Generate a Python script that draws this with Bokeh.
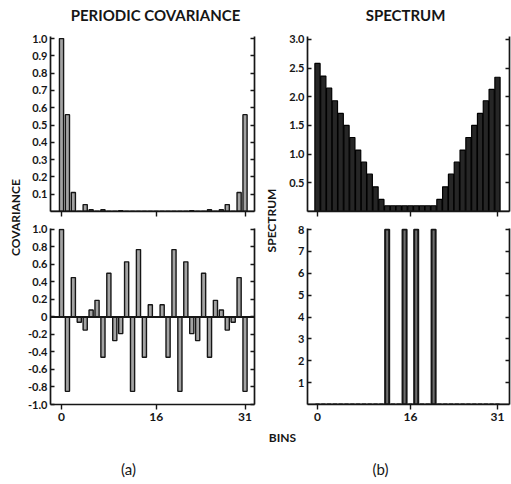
from bokeh.plotting import figure
from bokeh.models import Range1d, LinearAxis, FixedTicker, Span, Label, GridBox
from bokeh.embed import file_html
from bokeh.resources import INLINE

# ---------------- data ----------------
bins = list(range(32))

periodic_cov_a = [1.0, 0.56, 0.11, 0.0, 0.04, 0.01, 0.0, 0.01, 0.0, 0.0, 0.005,
                  0.0, 0.0, 0.0, 0.0, 0.0, 0.0, 0.0, 0.0, 0.0, 0.0, 0.0, 0.005,
                  0.0, 0.0, 0.01, 0.0, 0.01, 0.04, 0.0, 0.11, 0.56]

spectrum_a = [2.58, 2.36, 2.15, 1.93, 1.71, 1.50, 1.29, 1.07, 0.86, 0.65, 0.43, 0.21,
              0.10, 0.10, 0.10, 0.10, 0.10, 0.10, 0.10, 0.10, 0.10,
              0.21, 0.43, 0.65, 0.86, 1.07, 1.29, 1.50, 1.71, 1.93, 2.13, 2.34]

periodic_cov_b = [1.0, -0.85, 0.45, -0.06, -0.15, 0.08, 0.19, -0.46, 0.50, -0.27, -0.19,
                  0.63, -0.85, 0.77, -0.46, 0.14, 0.0, 0.14, -0.46, 0.77, -0.85, 0.63,
                  -0.19, -0.27, 0.50, -0.46, 0.19, 0.08, -0.15, -0.06, 0.45, -0.85]

spectrum_b = [0, 0, 0, 0, 0, 0, 0, 0, 0, 0, 0, 0, 8, 0, 0, 8, 0, 8, 0, 0, 8,
              0, 0, 0, 0, 0, 0, 0, 0, 0, 0, 0]

x_ticks = [0, 16, 31]
x_tick_labels = ["0", "16", "31"]

cov_a_ticks = [0.1, 0.2, 0.3, 0.4, 0.5, 0.6, 0.7, 0.8, 0.9, 1.0]
cov_a_labels = ["0.1", "0.2", "0.3", "0.4", "0.5", "0.6", "0.7", "0.8", "0.9", "1.0"]

spec_a_ticks = [0.5, 1.0, 1.5, 2.0, 2.5, 3.0]
spec_a_labels = ["0.5", "1.0", "1.5", "2.0", "2.5", "3.0"]

cov_b_ticks = [-1.0, -0.8, -0.6, -0.4, -0.2, 0.0, 0.2, 0.4, 0.6, 0.8, 1.0]
cov_b_labels = ["-1.0", "-0.8", "-0.6", "-0.4", "-0.2", "0", "0.2", "0.4", "0.6", "0.8", "1.0"]

spec_b_ticks = [1, 2, 3, 4, 5, 6, 7, 8]
spec_b_labels = ["1", "2", "3", "4", "5", "6", "7", "8"]

# ---------------- layout / style ----------------
W1, W2 = 262, 249
H1, H2 = 220, 264
FONT = "Lato"
INK = "#161616"


def make_panel(width, height, xr, yr, borders, yticks, ylabels, show_xlabels):
    bl, br, bt, bb = borders
    p = figure(width=width, height=height, x_range=Range1d(*xr), y_range=Range1d(*yr),
               output_backend="svg", toolbar_location=None,
               min_border_left=bl, min_border_right=br, min_border_top=bt, min_border_bottom=bb,
               x_axis_location=None, y_axis_location=None)
    p.outline_line_color = None
    p.grid.visible = False
    p.background_fill_color = None
    p.border_fill_color = None

    common = dict(axis_line_color=INK, axis_line_width=1.7,
                  major_tick_line_color=INK, major_tick_line_width=1.4,
                  minor_tick_line_color=None,
                  major_label_text_font=FONT, major_label_text_font_style="bold",
                  major_label_text_font_size="11px", major_label_text_color=INK)

    left = LinearAxis(ticker=FixedTicker(ticks=yticks),
                      major_label_overrides=dict(zip(yticks, ylabels)),
                      major_tick_in=4, major_tick_out=0, major_label_standoff=3, **common)
    p.add_layout(left, "left")

    # right-hand axis: tick marks only (labels not painted)
    right = LinearAxis(ticker=FixedTicker(ticks=yticks), **common)
    right.major_tick_in = 4
    right.major_tick_out = 0
    right.major_label_standoff = 0
    right.major_label_text_font_size = "1px"
    right.major_label_text_color = None
    p.add_layout(right, "right")

    bottom = LinearAxis(ticker=FixedTicker(ticks=x_ticks),
                        major_label_overrides=dict(zip(x_ticks, x_tick_labels)),
                        major_tick_in=0, major_tick_out=5, major_label_standoff=3, **common)
    if not show_xlabels:
        bottom.major_label_text_font_size = "1px"
        bottom.major_label_text_color = None
        bottom.major_label_standoff = 0
    else:
        bottom.major_label_text_font_size = "12px"
    p.add_layout(bottom, "below")
    # solid baseline at zero
    p.add_layout(Span(location=0, dimension="width", line_color=INK, line_width=2))
    return p


LEFT_X = (-1.86, 32.6)
RIGHT_X = (-1.72, 33.07)

# top-left: periodic covariance (a)
tl = make_panel(W1, H1, LEFT_X, (0, 1.012), (50, 8, 36, 9), cov_a_ticks, cov_a_labels, False)
tl.vbar(x=bins, top=periodic_cov_a, bottom=0, width=0.7, level="underlay",
        fill_color="#a3a3a3", line_color=INK, line_width=1.4)

# top-right: spectrum (a)
tr = make_panel(W2, H1, RIGHT_X, (0, 3.05), (45, 2, 36, 9), spec_a_ticks, spec_a_labels, False)
tr.vbar(x=bins, top=spectrum_a, bottom=0, width=0.9, level="underlay",
        fill_color="#262626", line_color="#000000", line_width=1.2)

# bottom-left: periodic covariance (b)
bl = make_panel(W1, H2, LEFT_X, (-1.0, 1.011), (50, 8, 8, 80), cov_b_ticks, cov_b_labels, True)
bl.vbar(x=bins, top=periodic_cov_b, bottom=0, width=0.7, level="underlay",
        fill_color="#a3a3a3", line_color=INK, line_width=1.4)

# bottom-right: spectrum (b)
br = make_panel(W2, H2, RIGHT_X, (0, 8.05), (45, 2, 8, 80), spec_b_ticks, spec_b_labels, True)
br.vbar(x=bins, top=spectrum_b, bottom=0, width=0.7, level="underlay",
        fill_color="#6e6e6e", line_color=INK, line_width=2)

panels = GridBox(children=[(tl, 0, 0), (tr, 0, 1), (bl, 1, 0), (br, 1, 1)],
                 rows=[f"{H1}px", f"{H2}px"], cols=[f"{W1}px", f"{W2}px"])

# overlay (behind the panels) for the free text; data units equal pixels
ov = figure(width=511, height=484, x_range=Range1d(0, 511), y_range=Range1d(0, 484),
            output_backend="svg", toolbar_location=None, min_border=0,
            min_border_left=0, min_border_right=0, min_border_top=0, min_border_bottom=0,
            x_axis_location=None, y_axis_location=None)
ov.grid.visible = False
ov.background_fill_color = "white"
ov.border_fill_color = "white"
ov.outline_line_color = None


def add_text(x, y_from_top, text, size, angle=0.0, style="bold"):
    ov.add_layout(Label(x=x, y=484 - y_from_top, text=text, angle=angle,
                        text_align="center", text_baseline="middle",
                        text_font=FONT, text_font_style=style,
                        text_font_size=size, text_color=INK))


add_text(155, 14, "PERIODIC COVARIANCE", "15px")
add_text(405, 14, "SPECTRUM", "15px")
add_text(15, 217, "COVARIANCE", "12px", angle=1.5708)
add_text(271, 220, "SPECTRUM", "12px", angle=1.5708)
add_text(282, 437, "BINS", "12px")
add_text(128, 468, "(a)", "15px", style="normal")
add_text(380, 468, "(b)", "15px", style="normal")

layout = GridBox(children=[(ov, 0, 0), (panels, 0, 0)],
                 rows=["484px"], cols=["511px"])

open("out.html", "w").write(file_html(layout, INLINE))
